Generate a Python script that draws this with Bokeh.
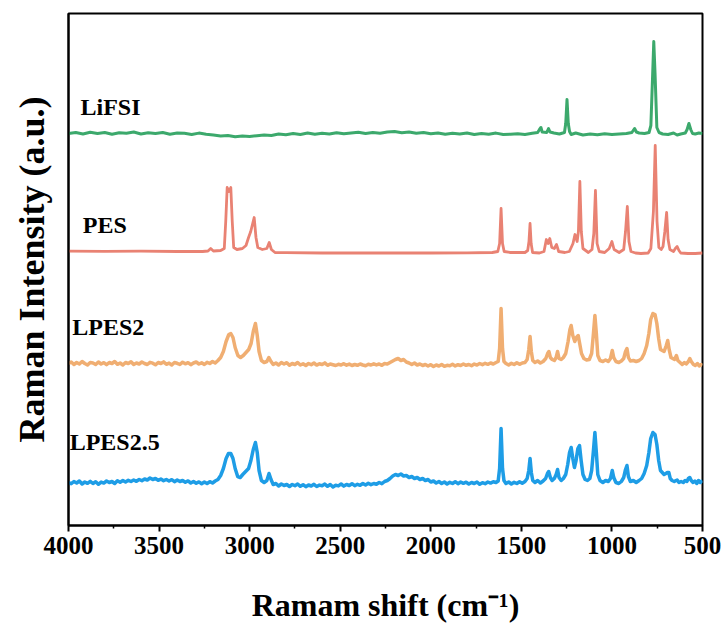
from bokeh.plotting import figure
from bokeh.models import Range1d, FixedTicker
from bokeh.core.properties import value
from bokeh.embed import file_html
from bokeh.resources import INLINE

# ---------------- data (wavenumber, relative intensity) ----------------
lifsi_x = [4000, 3960, 3920, 3880, 3840, 3800, 3760, 3720, 3680, 3640, 3600, 3560, 3520, 3480, 3440, 3400,
           3360, 3320, 3280, 3240, 3200, 3160, 3120, 3080, 3040, 3000, 2960, 2920, 2880, 2840, 2800, 2760,
           2720, 2680, 2640, 2600, 2560, 2520, 2480, 2440, 2400, 2360, 2320, 2280, 2240, 2200, 2160, 2120,
           2080, 2040, 2000, 1960, 1920, 1880, 1840, 1800, 1760, 1720, 1680, 1640, 1600, 1560, 1520, 1480,
           1440, 1410, 1400, 1392, 1385, 1360, 1350, 1342, 1320, 1290, 1262, 1255, 1248, 1241, 1234, 1225,
           1200, 1180, 1160, 1120, 1080, 1040, 1000, 960, 920, 890, 875, 865, 850, 820, 795, 785, 775, 769,
           762, 752, 740, 720, 690, 660, 640, 620, 595, 585, 575, 565, 555, 540, 520, 500]
lifsi_y = [0, 1, -0.5, 1.2, 0, 1, -0.8, 0.8, 0.3, 1.5, -0.5, 0.7, 0, 1, -0.7, 0.5,
           0.2, -1, 0.4, -0.8, -1.5, -2.5, -2, -3.2, -2.5, -3, -2.2, -1.5, -2, -0.5, -1.2, 0,
           -1, 0.5, -0.8, 0.2, -0.5, 0.8, -0.3, 0.5, 1.2, 0, 1, 0.3, 1.5, 2, 0.8, 1.5,
           0.2, 1, -0.3, 0.5, -0.8, 0.3, -0.5, 0.5, -1, 0, -0.7, 0.4, -1, -0.8, -0.2, -1,
           0.2, 1, 4, 6, 1.5, 1, 5, 1.5, 0.5, -0.5, 1, 10, 34, 10, 2, -1,
           0.5, -0.5, -1.5, -0.5, -1.2, -0.3, -1, -0.5, 0, 1, 5, 1.5, 0.5, 0, 1, 8, 60, 92,
           60, 6, 1, -0.5, -1, 0.5, -1.5, -0.5, 0.5, 4, 10, 4, 0, -0.5, 0.5, 0]

pes_x = [4000, 3800, 3600, 3400, 3260, 3230, 3215, 3200, 3160, 3140, 3132, 3124, 3114, 3104, 3096, 3088,
         3070, 3040, 3020, 3006, 2994, 2975, 2965, 2955, 2930, 2905, 2892, 2880, 2860, 2800, 2600, 2400,
         2200, 2000, 1800, 1660, 1630, 1620, 1612, 1604, 1595, 1560, 1480, 1465, 1458, 1452, 1446, 1438,
         1400, 1375, 1362, 1352, 1343, 1332, 1318, 1306, 1294, 1260, 1235, 1215, 1204, 1192, 1185, 1177,
         1169, 1160, 1130, 1110, 1100, 1091, 1082, 1070, 1040, 1015, 1000, 988, 960, 935, 925, 915,
         906, 895, 870, 840, 800, 785, 771, 761, 751, 741, 728, 718, 708, 698, 690, 680,
         660, 650, 640, 630, 620, 580, 540, 500]
pes_y = [0.3, 0.2, 0.3, 0, 0, 0.5, 3, 0.5, 1, 3, 30, 64, 60, 64, 30, 4,
         2, 3, 6, 14, 20, 34, 14, 4, 2, 3, 9, 2, -1, -1.2, -1.5, -1.5,
         -1.5, -1.5, -1.3, -1, 0, 8, 43, 8, 0, -1, -1, 1, 10, 28, 8, -1,
         -1.5, 0, 12, 8, 13, 4, 3, 7, 0, -1, 0, 8, 17, 10, 20, 70,
         20, 3, -1, 2, 18, 61, 8, 0, -1, 3, 10, 2, -1, 2, 20, 45,
         10, 0, -1.5, -2, -1.5, 3, 40, 106, 30, 4, 2, 5, 20, 39, 12, 2,
         0, 3, 5, 1, -1.5, -2, -2, -1.5]

lpes2_x = [4000, 3985, 3970, 3955, 3940, 3925, 3910, 3895, 3880, 3865, 3850, 3835, 3820, 3805, 3790, 3775,
           3760, 3745, 3730, 3715, 3700, 3685, 3670, 3655, 3640, 3625, 3610, 3595, 3580, 3565, 3550, 3535,
           3520, 3505, 3490, 3475, 3460, 3445, 3430, 3415, 3400, 3385, 3370, 3355, 3340, 3325, 3310, 3295,
           3280, 3265, 3250, 3235, 3220, 3205, 3190, 3175, 3160, 3145, 3130, 3115, 3104, 3092, 3080, 3065,
           3050, 3035, 3020, 3005, 2992, 2980, 2968, 2958, 2948, 2935, 2920, 2905, 2894, 2882, 2870, 2855,
           2840, 2825, 2810, 2795, 2780, 2765, 2750, 2735, 2720, 2705, 2690, 2675, 2660, 2645, 2630, 2615,
           2600, 2585, 2570, 2555, 2540, 2525, 2510, 2495, 2480, 2465, 2450, 2435, 2420, 2405, 2390, 2375,
           2360, 2345, 2330, 2315, 2300, 2285, 2270, 2255, 2240, 2225, 2210, 2195, 2180, 2165, 2150, 2135,
           2120, 2105, 2090, 2075, 2060, 2045, 2030, 2015, 2000, 1985, 1970, 1955, 1940, 1925, 1910, 1895,
           1880, 1865, 1850, 1835, 1820, 1805, 1790, 1775, 1760, 1745, 1730, 1715, 1700, 1685, 1670, 1655,
           1640, 1628, 1620, 1612, 1604, 1596, 1585, 1570, 1555, 1540, 1525, 1510, 1495, 1480, 1468, 1459,
           1452, 1445, 1437, 1425, 1410, 1395, 1380, 1365, 1355, 1348, 1340, 1330, 1318, 1308, 1300, 1292,
           1280, 1268, 1255, 1242, 1232, 1225, 1216, 1205, 1196, 1186, 1178, 1168, 1155, 1140, 1125, 1112,
           1102, 1094, 1086, 1078, 1066, 1050, 1035, 1020, 1008, 998, 990, 978, 962, 948, 935, 925,
           917, 909, 898, 882, 866, 850, 836, 822, 808, 796, 786, 774, 762, 752, 742, 732,
           722, 712, 700, 692, 684, 674, 664, 654, 644, 636, 624, 612, 600, 590, 578, 570,
           562, 550, 540, 528, 518, 508, 500]
lpes2_y = [0, 1.5, -1, 1, -0.5, 2, 0, -1.5, 1, 0.5, -1, 1.5, -0.5, 0.8, -1.2, 1,
           0, 2, -0.8, 0.5, -1.5, 1, 0, 1.8, -1, 0.5, -0.5, 1.5, 0, -1, 1.2, 0.3,
           -1.3, 1, 0, 1.6, -0.8, 0.4, -1.5, 1, 0.2, -1, 1.3, -0.3, 0.8, -1.2, 0.5, 1.5,
           -0.5, 0.7, -1, 1.2, 0, 2, 0.5, 3, 6, 12, 22, 29, 30, 26, 16, 8,
           6, 8, 11, 14, 20, 32, 40, 28, 12, 3, 1, 2, 6, 2, -1, 0.5,
           -1.5, 1, -0.5, 0.8, -1.8, 0, -1, 1, -1.5, -0.3, -2, 0, -1.2, 0.5, -1.6, -0.2,
           -1, 0.6, -1.8, -0.5, -1.2, -2, -0.8, -1.5, -0.2, -1.7, -0.6, -2, -1, -1.8, -0.5, -1.5,
           -2.2, -0.8, -1.5, -0.3, -1.4, -0.5, -1.8, 0, -0.6, 1, 2.5, 4, 5, 3, 4, 1.5,
           0.5, -1, 0.5, -1.5, -0.5, -2, -1, -2.5, -1.2, -3, -1.5, -2.5, -1, -2.8, -1.8, -2.2,
           -0.8, -2.4, -1.2, -2, -0.5, -1.8, -1, -2.2, -0.6, -1.5, 0, -1.2, 0.2, -0.8, 0.5, -0.5,
           1, 2, 15, 55, 15, 2, 0, -1.5, 0.2, -1, 0.8, -0.8, 0.5, 1, 4, 14,
           27, 12, 3, 1, 2.5, 0.5, 2, 5, 10, 12, 6, 4, 3, 6, 12, 5,
           4, 6, 10, 22, 34, 38, 28, 22, 26, 28, 20, 10, 5, 3.5, 4, 10,
           30, 48, 30, 8, 3, 2, 3.5, 2, 5, 13, 6, 2, 1, 2.5, 5, 12,
           15, 6, 2.5, 3, 2, 3, 5, 10, 18, 30, 44, 50, 49, 40, 25, 14,
           13, 12, 18, 23, 14, 6, 5, 4, 8, 3, 1, -1, 1, -0.5, 2, 5,
           2, -1, -2, 0, -2.5, -1, -2]

lpes25_x = [4000, 3985, 3970, 3955, 3940, 3925, 3910, 3895, 3880, 3865, 3850, 3835, 3820, 3805, 3790, 3775,
            3760, 3745, 3730, 3715, 3700, 3685, 3670, 3655, 3640, 3625, 3610, 3595, 3580, 3565, 3550, 3535,
            3520, 3505, 3490, 3475, 3460, 3445, 3430, 3415, 3400, 3385, 3370, 3355, 3340, 3325, 3310, 3295,
            3280, 3265, 3250, 3235, 3220, 3205, 3190, 3175, 3160, 3145, 3130, 3117, 3104, 3092, 3080, 3066,
            3052, 3038, 3022, 3006, 2993, 2980, 2968, 2958, 2948, 2935, 2920, 2905, 2893, 2882, 2870, 2855,
            2840, 2825, 2810, 2795, 2780, 2765, 2750, 2735, 2720, 2705, 2690, 2675, 2660, 2645, 2630, 2615,
            2600, 2585, 2570, 2555, 2540, 2525, 2510, 2495, 2480, 2465, 2450, 2435, 2420, 2405, 2390, 2375,
            2360, 2345, 2330, 2315, 2300, 2285, 2270, 2255, 2240, 2225, 2210, 2195, 2180, 2165, 2150, 2135,
            2120, 2105, 2090, 2075, 2060, 2045, 2030, 2015, 2000, 1985, 1970, 1955, 1940, 1925, 1910, 1895,
            1880, 1865, 1850, 1835, 1820, 1805, 1790, 1775, 1760, 1745, 1730, 1715, 1700, 1685, 1670, 1655,
            1640, 1628, 1620, 1612, 1604, 1596, 1585, 1570, 1555, 1540, 1525, 1510, 1495, 1480, 1468, 1459,
            1452, 1445, 1437, 1425, 1410, 1395, 1380, 1366, 1356, 1349, 1340, 1330, 1318, 1308, 1300, 1292,
            1280, 1268, 1255, 1244, 1234, 1225, 1216, 1207, 1198, 1188, 1179, 1170, 1160, 1148, 1135, 1122,
            1112, 1102, 1094, 1086, 1078, 1066, 1050, 1035, 1020, 1008, 998, 990, 978, 962, 948, 935,
            925, 917, 909, 898, 882, 866, 850, 836, 822, 808, 796, 786, 774, 762, 752, 742,
            732, 722, 712, 702, 694, 686, 678, 668, 656, 646, 640, 630, 618, 606, 596, 586,
            578, 570, 562, 552, 542, 532, 522, 512, 500]
lpes25_y = [0, -1.2, 1, -0.5, 1.5, -1.5, 0.5, -0.8, 1.2, -1, 0.8, -1.8, 0.4, -0.6, 1.5, 0,
            1, -1, 1.8, 0.3, 2, 0.5, 2.2, 1, 2.5, 1.2, 3, 1.8, 3.5, 2.5, 4.5, 3,
            4, 2.2, 3.5, 1.8, 3, 1.5, 2.8, 0.8, 2.5, 1, 2, 0.2, 1.6, -0.5, 1, -0.8,
            0.6, -1.2, 0.5, -1, 0.8, -0.5, 1.5, 3, 7, 14, 24, 29, 29, 24, 14, 6,
            5, 8, 11, 14, 22, 33, 40, 30, 12, 2, 0, 2, 9, 3, -2, -1,
            -3.5, -1.5, -3, -2, -4, -2, -3.2, -1.5, -3.8, -2.2, -4.2, -2.5, -3.5, -1.8, -4, -2.6,
            -3.2, -1.6, -3.8, -2, -4.5, -2.8, -3.4, -1.5, -3.6, -2, -3, -1.2, -3.2, -1.8, -2.8, -1,
            -2.5, -0.8, -2.2, -1, -1.8, 0, -1.2, 1, 2, 4, 6.5, 8, 7, 8.5, 6.5, 7,
            5, 6, 4, 5, 3, 4, 2, 3, 0.5, 1.5, -0.5, 1, -1, 0.5, -1.5, 0.2,
            -1, 0.8, -1.2, 0.5, -0.8, 0.3, -1.5, 0, -1, 0.5, -1.8, -0.2, -1.2, 0.5, -0.6, 0.8,
            0, 1.5, 14, 54, 14, 2, -1, 0.5, -1.5, 0.2, -1, 0.8, -0.8, 1, 4, 12,
            24, 10, 2, 0, 2, -0.5, 1.5, 4, 9, 11, 5, 2, 4, 8, 13, 5,
            2, 4, 8, 18, 30, 35, 24, 15, 22, 34, 37, 22, 8, 3, 2, 4,
            12, 32, 50, 30, 8, 2, 0, 2, 1, 4, 12, 5, 0, -1, 1, 5,
            13, 17, 6, 1, 2, 0, 2, 4, 9, 17, 30, 44, 50, 48, 38, 22,
            12, 10, 8, 9, 10, 10, 4, 2, 1, 2, 2.5, 0, 1, 0, 2, 1,
            4, 5, 2, 0, 1.5, -1, 2, 0, 2]

labels = ["LiFSI", "PES", "LPES2", "LPES2.5"]
x_ticks = [4000, 3500, 3000, 2500, 2000, 1500, 1000, 500]
x_minor = [3750, 3250, 2750, 2250, 1750, 1250, 750]

# ---------------- layout / style ----------------
colors = ["#3CA96C", "#E98273", "#F0AE72", "#1E9DE6"]
widths = [3, 2.8, 3.5, 3.5]
offsets = [392, 274, 162, 43]          # stacking baselines (y units)
label_pos = [(3768, 419), (3800, 301), (3780, 199), (3745, 84)]
SERIF = "Liberation Serif"

p = figure(width=727, height=626, output_backend="svg", toolbar_location=None,
           x_range=Range1d(4000, 500), y_range=Range1d(0, 512),
           min_border_left=68, min_border_right=25, min_border_top=13, min_border_bottom=101)
p.grid.visible = False
p.background_fill_color = "white"
p.border_fill_color = "white"
p.outline_line_color = "black"
p.outline_line_width = 2

series = [(lifsi_x, lifsi_y), (pes_x, pes_y), (lpes2_x, lpes2_y), (lpes25_x, lpes25_y)]
for (xs, ys), c, w, off in zip(series, colors, widths, offsets):
    p.line(xs, [v + off for v in ys], line_color=c, line_width=w, line_join="round")

for name, (lx, ly) in zip(labels, label_pos):
    p.text(x=[lx], y=[ly], text=[name], text_align="center", text_baseline="middle",
           text_font=value(SERIF), text_font_style="bold", text_font_size="24px", text_color="black")

xa = p.xaxis[0]
xa.ticker = FixedTicker(ticks=x_ticks, minor_ticks=x_minor)
xa.axis_label = "Ramam shift (cm\u207b\u00b9)"
xa.axis_label_text_font = SERIF
xa.axis_label_text_font_style = "bold"
xa.axis_label_text_font_size = "32px"
xa.axis_label_text_color = "black"
xa.axis_label_standoff = 30
xa.major_label_text_font = SERIF
xa.major_label_text_font_style = "bold"
xa.major_label_text_font_size = "25px"
xa.major_label_text_color = "black"
xa.major_label_standoff = 5
xa.axis_line_width = 2
xa.axis_line_color = "black"
xa.major_tick_in = 0
xa.major_tick_out = 6
xa.minor_tick_in = 0
xa.minor_tick_out = 3
xa.major_tick_line_width = 2
xa.minor_tick_line_width = 1.5

ya = p.yaxis[0]
ya.ticker = FixedTicker(ticks=[])
ya.major_label_text_font_size = "0px"
ya.axis_label = "Raman Intensity (a.u.)"
ya.axis_label_text_font = SERIF
ya.axis_label_text_font_style = "bold"
ya.axis_label_text_font_size = "36px"
ya.axis_label_text_color = "black"
ya.axis_label_standoff = 17
ya.axis_line_width = 2
ya.axis_line_color = "black"
ya.major_tick_line_color = None
ya.minor_tick_line_color = None

open("out.html", "w").write(file_html(p, INLINE))
